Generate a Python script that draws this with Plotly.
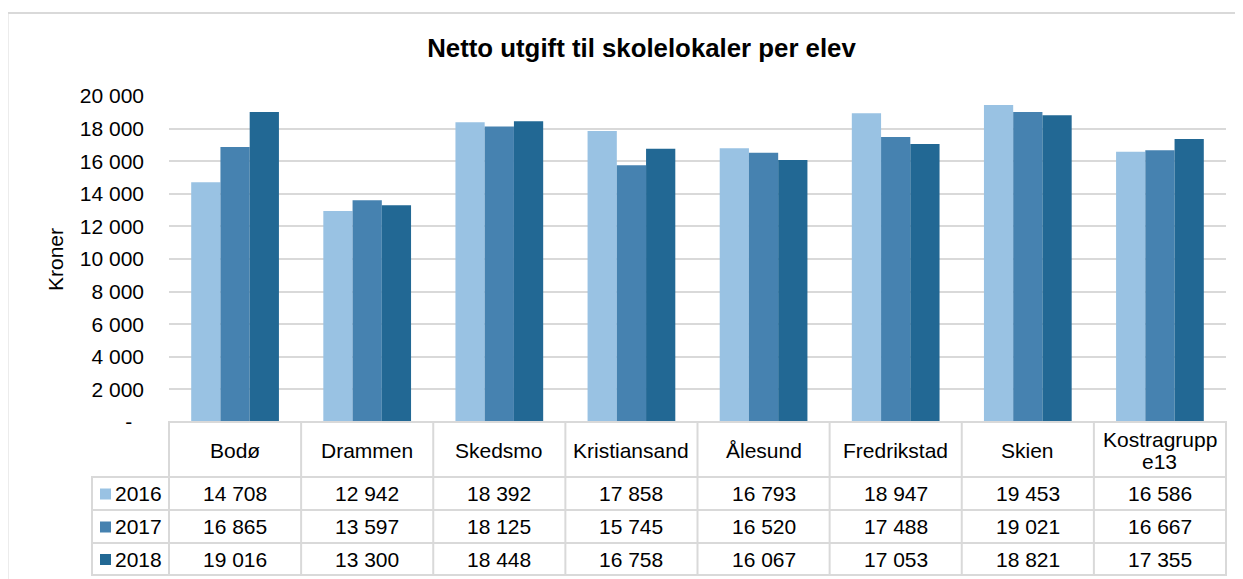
import plotly.graph_objects as go

# ---------------- data ----------------
categories = ["Bodø", "Drammen", "Skedsmo", "Kristiansand", "Ålesund",
              "Fredrikstad", "Skien", "Kostragruppe13"]
years = ["2016", "2017", "2018"]
values_2016 = [14708, 12942, 18392, 17858, 16793, 18947, 19453, 16586]
values_2017 = [16865, 13597, 18125, 15745, 16520, 17488, 19021, 16667]
values_2018 = [19016, 13300, 18448, 16758, 16067, 17053, 18821, 17355]
y_ticks = [0, 2000, 4000, 6000, 8000, 10000, 12000, 14000, 16000, 18000, 20000]
title_text = "Netto utgift til skolelokaler per elev"
y_title = "Kroner"

series = [values_2016, values_2017, values_2018]
colors = ["#99C2E3", "#4682B0", "#226894"]

# ---------------- geometry (page pixels; page has 8px body margin) ----------------
OFF = 8
W, H = 1243 - OFF, 579 - OFF
L, R, T, B = 169, 1226, 96, 422  # plot area in page pixels
FONT = "Liberation Sans, Arial, sans-serif"
FS = 21
GRID = "#D9D9D9"


def px(xp):
    return (xp - L) / (R - L)


def py(yp):
    return (B - yp) / (B - T)


def fmt(v):
    return f"{v:,}".replace(",", " ")


fig = go.Figure()
for yr, vals, col in zip(years, series, colors):
    fig.add_trace(go.Bar(x=categories, y=vals, name=yr,
                         marker=dict(color=col, line=dict(width=0))))

ticktext = [fmt(v) if v else "-\u00a0\u00a0" for v in y_ticks]

shapes = []
annotations = []


def hline(x0, x1, y, w=2):
    shapes.append(dict(type="rect", xref="paper", yref="paper",
                       x0=px(x0), x1=px(x1), y0=py(y - w / 2), y1=py(y + w / 2),
                       line=dict(width=0), fillcolor=GRID))


def vline(x, y0, y1, w=2):
    shapes.append(dict(type="rect", xref="paper", yref="paper",
                       x0=px(x - w / 2), x1=px(x + w / 2), y0=py(y0), y1=py(y1),
                       line=dict(width=0), fillcolor=GRID))


# outer chart border
shapes.append(dict(type="rect", xref="paper", yref="paper",
                   x0=px(7.5), x1=px(1262), y0=py(13), y1=py(600),
                   line=dict(color=GRID, width=2), fillcolor="rgba(0,0,0,0)",
                   layer="below"))

# table rows (page pixel y)
row_lines = [422, 477, 510, 543, 575]
n = len(categories)
col_w = (R - L) / n
hline(L - 1, R + 1, row_lines[0])
hline(L - 1, R + 1, row_lines[1])
for yl in row_lines[2:]:
    hline(91, R + 1, yl)
hline(91, L, row_lines[1])
for i in range(n + 1):
    vline(L + i * col_w, row_lines[0] - 1, row_lines[-1] + 1)
vline(92, row_lines[1] - 1, row_lines[-1] + 1)

txt = dict(size=FS, color="#000", family=FONT)

# header labels
for c in categories:
    if len(c) > 12:
        parts = [c[:11], c[11:]]
        annotations.append(dict(xref="x", yref="paper", x=c, y=py(440), text=parts[0],
                                xanchor="center", yanchor="middle", showarrow=False, font=txt))
        annotations.append(dict(xref="x", yref="paper", x=c, y=py(461), text=parts[1],
                                xanchor="center", yanchor="middle", showarrow=False, font=txt))
    else:
        annotations.append(dict(xref="x", yref="paper", x=c, y=py(450), text=c,
                                xanchor="center", yanchor="middle", showarrow=False, font=txt))

# value rows + legend keys
for r, (yr, vals, col) in enumerate(zip(years, series, colors)):
    yc = (row_lines[r + 1] + row_lines[r + 2]) / 2
    shapes.append(dict(type="rect", xref="paper", yref="paper",
                       x0=px(100), x1=px(111), y0=py(yc - 5), y1=py(yc + 6),
                       line=dict(width=0), fillcolor=col))
    annotations.append(dict(xref="paper", yref="paper", x=px(113), y=py(yc), text=yr,
                            xanchor="left", yanchor="middle", showarrow=False, font=txt))
    for c, v in zip(categories, vals):
        annotations.append(dict(xref="x", yref="paper", x=c, y=py(yc), text=fmt(v),
                                xanchor="center", yanchor="middle", showarrow=False, font=txt))

# y axis title
annotations.append(dict(xref="paper", yref="paper", x=px(55), y=py(260), text=y_title,
                        textangle=-90, xanchor="center", yanchor="middle",
                        showarrow=False, font=txt))

fig.update_layout(
    width=W, height=H, autosize=False,
    margin=dict(l=L - OFF, r=W - (R - OFF), t=T - OFF, b=H - (B - OFF), pad=0),
    paper_bgcolor="white", plot_bgcolor="white",
    barmode="group", bargap=0.336, bargroupgap=0,
    showlegend=False,
    title=dict(text=f"<b>{title_text}</b>", xref="container", yref="container",
               x=(641.5 - OFF) / W, y=1 - (48 - OFF) / H, xanchor="center", yanchor="middle",
               font=dict(size=25.8, color="#000", family=FONT)),
    font=dict(family=FONT, size=FS, color="#000"),
    xaxis=dict(range=[-0.5, n - 0.5], showticklabels=False, showgrid=False,
               zeroline=False, showline=False, ticks=""),
    yaxis=dict(range=[0, 20000], tickvals=y_ticks, ticktext=ticktext,
               showgrid=True, gridcolor=GRID, gridwidth=1.5, zeroline=False,
               showline=False, ticks="", ticklabelstandoff=24,
               tickfont=txt),
    shapes=shapes, annotations=annotations,
)

fig.write_html("out.html")
